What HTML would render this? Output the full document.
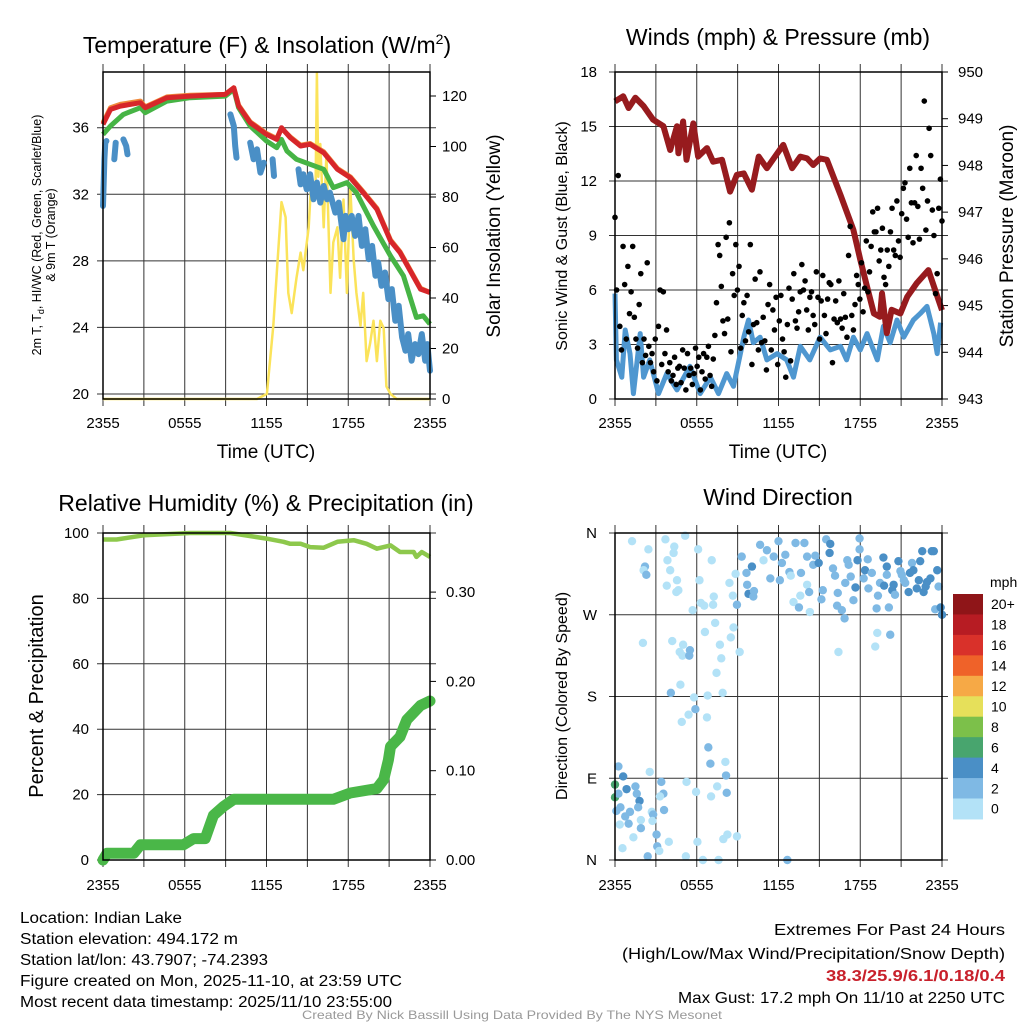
<!DOCTYPE html>
<html><head><meta charset="utf-8"><style>
body{margin:0;background:#fff}
svg{display:block;font-family:"Liberation Sans",sans-serif}
</style></head><body>
<svg id="chart" width="1024" height="1024" viewBox="0 0 1024 1024" xmlns="http://www.w3.org/2000/svg">
<rect x="0" y="0" width="1024" height="1024" fill="#fff"/>
<text x="267" y="53" font-size="23" text-anchor="middle">Temperature (F) &amp; Insolation (W/m<tspan font-size="14" dy="-9">2</tspan><tspan dy="9">)</tspan></text>
<text x="778" y="45" font-size="23" text-anchor="middle">Winds (mph) &amp; Pressure (mb)</text>
<text x="266" y="511" font-size="23" text-anchor="middle">Relative Humidity (%) &amp; Precipitation (in)</text>
<text x="778" y="505" font-size="23" text-anchor="middle">Wind Direction</text>
<text x="266" y="458" font-size="19" text-anchor="middle">Time (UTC)</text>
<text x="778" y="458" font-size="19" text-anchor="middle">Time (UTC)</text>
<text transform="translate(41,235) rotate(-90)" font-size="12.5" text-anchor="middle">2m T, T<tspan font-size="9" dy="3">d</tspan><tspan dy="-3">, HI/WC (Red, Green, Scarlet/Blue)</tspan></text>
<text transform="translate(55,235) rotate(-90)" font-size="12.5" text-anchor="middle">&amp; 9m T (Orange)</text>
<text transform="translate(500,236) rotate(-90)" font-size="19" text-anchor="middle">Solar Insolation (Yellow)</text>
<text transform="translate(567,236) rotate(-90)" font-size="16" text-anchor="middle">Sonic Wind &amp; Gust (Blue, Black)</text>
<text transform="translate(1013,236) rotate(-90)" font-size="19" text-anchor="middle">Station Pressure (Maroon)</text>
<text transform="translate(43,696) rotate(-90)" font-size="20" text-anchor="middle">Percent &amp; Precipitation</text>
<text transform="translate(567,696) rotate(-90)" font-size="16" text-anchor="middle">Direction (Colored By Speed)</text>
<g font-size="15.5">
<text x="20" y="923" textLength="162" lengthAdjust="spacingAndGlyphs">Location: Indian Lake</text>
<text x="20" y="944" textLength="218" lengthAdjust="spacingAndGlyphs">Station elevation: 494.172 m</text>
<text x="20" y="965" textLength="248" lengthAdjust="spacingAndGlyphs">Station lat/lon: 43.7907; -74.2393</text>
<text x="20" y="986" textLength="382" lengthAdjust="spacingAndGlyphs">Figure created on Mon, 2025-11-10, at 23:59 UTC</text>
<text x="20" y="1007" textLength="372" lengthAdjust="spacingAndGlyphs">Most recent data timestamp: 2025/11/10 23:55:00</text>
</g>
<g font-size="16" text-anchor="end">
<text x="1005" y="935" textLength="231" lengthAdjust="spacingAndGlyphs">Extremes For Past 24 Hours</text>
<text x="1005" y="959" textLength="383" lengthAdjust="spacingAndGlyphs">(High/Low/Max Wind/Precipitation/Snow Depth)</text>
<text x="1005" y="981" fill="#c8202b" font-weight="bold" textLength="179" lengthAdjust="spacingAndGlyphs">38.3/25.9/6.1/0.18/0.4</text>
<text x="1005" y="1003" textLength="327" lengthAdjust="spacingAndGlyphs">Max Gust: 17.2 mph On 11/10 at 2250 UTC</text>
</g>
<text x="512" y="1019" font-size="12" fill="#999" text-anchor="middle" textLength="420" lengthAdjust="spacingAndGlyphs">Created By Nick Bassill Using Data Provided By The NYS Mesonet</text>
</svg>
<script>
// ---------- Data ----------
const xTickLabels = ["2355","0555","1155","1755","2355"];
const tempTicks = [20,24,28,32,36];
const insolTicks = [0,20,40,60,80,100,120];
const windTicks = [0,3,6,9,12,15,18];
const presTicks = [943,944,945,946,947,948,949,950];
const rhTicks = [0,20,40,60,80,100];
const precipTicks = [0.00,0.10,0.20,0.30];
const dirTicks = [0,90,180,270,360];
const dirTickLabels = ["N","E","S","W","N"];

const tempHours = [0,0.55,1.27,2.75,3.1,4.7,6.4,8.97,9.6,9.95,10.8,12.0,12.75,13.1,13.75,14.5,15.2,16.2,17.2,18.15,19.1,20.1,21.1,21.8,23.3,24];
const tempVals  = [36.2,37.1,37.3,37.5,37.2,37.8,37.9,38.0,38.4,37.3,36.3,35.6,35.3,36.0,35.4,34.9,35.0,34.5,33.5,33.0,32.1,31.1,29.2,28.5,26.3,26.1];
const temp9mVals = [36.3,37.2,37.4,37.6,37.25,37.85,37.95,38.0,38.4,37.35,36.35,35.65,35.35,35.95,35.45,34.95,35.05,34.55,33.55,33.05,32.15,31.15,29.25,28.55,26.35,26.1];
const hiHours = [0,0.55,1.5,2.75,3.1,4.7,6.4,8.97,9.6,9.95,10.8,12,12.75,13.1,13.5,14.2,15.2,16.2,16.9,17.9,18.6,19.85,21.1,22.05,23.0,23.5,24];
const hiVals  = [35.6,36.1,36.8,37.2,36.9,37.6,37.8,37.9,38.3,37.2,36.1,35.2,34.8,35.3,34.6,34.1,33.8,33.5,32.4,32.7,32.1,30.1,28.3,27.1,24.6,24.7,24.2];
const dewHours = [0,0.1,0.17,0.25,null,0.83,0.93,null,1.5,1.7,1.8,null,9.35,9.6,9.7,9.8,null,10.8,11.05,11.3,11.55,11.8,null,12.45,12.55,null,14.35,14.5,14.7,14.95,15.2,15.45,15.7,15.95,16.2,16.45,16.65,17.05,17.3,17.65,17.8,18.0,18.25,18.5,18.75,19.0,19.25,19.5,19.75,20.0,20.2,20.45,20.7,20.95,21.2,21.45,21.7,21.95,22.2,22.4,22.65,22.9,23.15,23.4,23.65,23.8,24.0];
const dewVals  = [31.3,34.1,35.1,35.2,null,34.1,35.1,null,35.3,34.9,34.4,null,36.8,36.1,34.9,34.2,null,35.1,34.1,34.7,33.3,33.9,null,34.1,33.1,null,33.5,32.6,33.2,32.3,33.2,31.7,32.7,31.5,32.5,31.7,32.1,30.9,31.5,29.3,30.7,29.9,30.7,29.5,30.7,28.9,29.9,28.1,28.9,27.1,27.9,26.5,27.3,25.7,26.3,24.4,25.3,23.4,22.6,23.6,22.0,23.0,22.4,23.6,22.0,23.0,21.4];
const insolHours = [0,11.3,12.03,12.5,12.9,13.1,13.4,13.6,13.85,14.2,14.5,14.7,15.1,15.3,15.6,15.7,15.8,15.95,16.2,16.4,16.7,16.9,17.2,17.4,17.65,17.9,18.15,18.4,18.6,18.9,19.1,19.35,19.6,19.85,20.1,20.35,20.6,20.8,21.1,21.55,24];
const insolVals  = [0,0,2,29,62,78,72,42,34,48,58,51,68,88,81,129,88,101,68,97,42,62,68,48,79,42,84,55,42,29,42,15,22,31,15,31,28,5,2,0,0];

const presHours = [0,0.6,1.0,1.5,2.1,2.8,3.55,4.05,4.55,4.65,5.0,5.25,5.75,6.1,6.75,7.2,7.85,8.45,8.95,9.45,10.05,10.55,11.15,11.65,12.35,13.0,13.6,14.1,14.55,15.05,15.55,16.55,17.5,18.0,18.5,19.0,19.45,19.6,19.95,20.3,20.95,21.45,22.15,23.0,24.0];
const presVals  = [949.37,949.48,949.23,949.45,949.27,948.98,948.84,948.33,948.84,948.26,948.94,948.12,948.9,948.19,948.37,948.08,948.12,947.44,947.8,947.83,947.48,948.19,947.94,948.15,948.44,947.94,948.19,948.15,948.01,948.15,948.12,947.37,946.62,945.98,945.4,944.83,944.76,945.26,944.41,944.91,944.83,945.19,945.48,945.76,944.9];
const windHours = [0,0.1,0.5,0.75,1.1,1.35,1.85,2.1,2.55,3.2,3.8,4.55,5.5,6.25,7.0,7.6,8.2,8.7,9.2,9.45,9.8,10.15,10.65,11.15,11.9,12.6,13.1,13.6,14.3,15.05,15.8,16.55,17.0,17.5,18.0,18.5,19.25,19.7,20.2,20.7,21.2,21.9,22.4,22.9,23.4,23.65,23.9];
const windVals  = [5.8,2.15,1.2,3.8,2.5,0.3,3.6,1.2,2.15,0.3,1.4,0.5,1.8,0.3,1.2,0.3,1.4,0.7,2.5,3.4,4.35,3.1,3.4,2.15,2.5,2.15,1.2,2.9,2.15,3.4,2.7,2.9,2.15,3.4,2.7,3.6,2.15,4.0,3.1,4.35,3.4,4.35,4.7,5.1,3.6,2.5,4.2];
const gustVals = [10,6,12.3,4,2.7,8.4,6.3,3.3,7.3,4.7,5.9,8.4,4.5,
3.3,2.8,5.2,6.9,2,3.3,2.4,7.5,2.9,2,2.5,1.5,3.3,1,4,6,1.9,5.9,2.5,3.8,
1.5,2,1,1.3,2.3,0.8,1.7,1.8,0.9,2.7,1.7,0.5,2.5,1.3,1.7,0.8,1.4,2.8,1.8,2.3,0.5,1.5,2.5,1.1,2.3,2.9,1.3,0.7,2.2,
3.5,5.3,8.5,7.9,6.2,4.3,3.6,8.9,4.4,9.7,2.6,6.9,5.7,8.5,6,7.3,2.8,4.6,5.3,3.2,5.7,3.7,8.5,1.9,4.1,6.6,4.2,2.7,7.0,3.1,
4.5,3.2,1.6,5.2,6.3,2.7,4.9,3.8,5.6,1.9,4.3,5.7,3.3,2.6,1.2,4.1,6.1,2.1,5.5,6.9,4.3,3.9,4.8,5.9,
7.4,6.0,6.5,4.9,3.8,5.6,5.9,4.6,4.1,7.0,5.6,3.3,5.4,6.8,4.6,3.6,5.5,6.4,6.3,2.0,4.4,5.4,4.2,6.5,
4.4,3.9,5.8,4.5,3.4,7.9,9.5,4.6,3.8,5.2,6.8,6.3,5.5,7.5,4.8,6.1,8.7,5.9,7.0,
8.4,10.3,9.2,9.2,10.5,7.6,8.2,9.4,6.7,6.3,8.2,7.3,9.2,10.5,8.2,7.9,10.9,8.7,7.8,
10.2,11.6,11.9,9.9,8.9,12.7,10.8,8.6,10.8,13.4,10.6,8.8,12.7,11.6,16.4,9.3,10.9,14.9,13.4,10.4,9.0,5.8,6.9,10.5,12.1,9.8];

const rhHours = [0,1,3,6.4,9.35,12,13.25,13.75,14.5,15.2,16.2,17.2,18.4,19.35,20.1,21.1,21.8,22.8,23.0,23.4,24];
const rhVals  = [98,98,99.3,100,100,98.3,97.3,96.7,96.7,95.7,95.5,97.3,97.8,96.7,95.2,96.2,94.2,94.2,92.7,94.2,92.7];
const precipHours = [0,0.3,2.25,2.75,5.9,6.65,7.5,8.1,8.85,9.6,16.9,18.15,20.1,20.6,20.95,21.1,21.8,22.3,23.3,24];
const precipVals  = [0,0.0075,0.0075,0.017,0.017,0.024,0.024,0.05,0.06,0.068,0.068,0.075,0.08,0.09,0.112,0.127,0.138,0.157,0.173,0.178];

const dirHours = [0.25,0.6,0,0,0.85,1.5,1.6,1.8,0.25,0.1,0.4,0.75,1.1,1.0,0.35,1.35,1.9,1.9,0.55,1.7,2.55,3.4,3.55,3.3,2.7,2.8,2.75,3.6,3.05,3.1,3.25,2.4,3.95,5.2,5.25,5.95,6.05,6.45,7.05,7.5,8.2,7.6,7.95,8.25,8.95,
1.25,2.45,2.2,2.1,2.3,3.7,4.35,4.3,3.85,5.15,4.05,4.55,3.8,4.5,4.65,6.1,6.2,5.7,6.3,6.55,7.1,7.25,7.2,8.4,8.85,8.65,
2.05,4.2,5.0,4.75,4.95,5.5,5.45,6.6,7.35,7.7,7.8,8.7,8.5,9.15,7.45,4.8,4.1,5.8,6.8,7.9,5.9,5.4,4.9,6.75,6.85,7.0,8.1,8.15,
8.95,9.3,9.65,9.7,9.8,10.15,10.2,10.05,10.65,10.9,11.15,11.4,11.65,12.0,12.1,12.25,12.5,12.8,12.9,13.1,13.25,13.5,13.6,13.65,13.9,14.1,14.1,14.25,14.3,14.55,14.7,14.95,15.25,15.15,15.5,15.8,15.75,16.0,16.15,16.35,16.3,16.65,16.85,16.9,17.05,17.15,17.3,17.5,17.65,17.8,17.95,17.95,18.25,18.35,18.55,18.6,18.85,19.2,19.3,19.25,19.1,19.45,19.7,19.75,19.95,19.95,20.1,20.2,20.35,20.45,20.55,20.8,20.95,21.05,21.2,21.3,21.55,21.65,21.8,21.9,22.15,22.3,22.4,22.55,22.65,22.8,22.9,23.15,23.25,23.4,23.5,23.65,23.75,23.9,24.0,16.4,12.65];
const dirVals = [103,92,83,69,78,81,73,65,73,54,58,48,53,40,39,25,44,35,13,58,97,86,73,70,53,50,43,55,28,15,10,4,20,4,86,75,20,0,70,81,74,0,23,28,26,
351,342,323,319,314,353,345,338,330,357,319,308,302,295,297,342,308,275,283,280,330,290,281,305,315,291,
239,241,237,229,225,231,225,251,261,237,222,256,245,229,206,193,184,179,181,184,166,160,152,157,124,106,108,93,
281,334,316,303,293,290,296,323,347,330,341,310,334,351,308,327,336,317,313,284,349,278,291,316,349,334,303,295,273,325,335,327,297,287,353,348,338,321,313,294,280,275,266,305,330,325,312,286,300,330,354,342,310,319,331,299,316,277,291,250,235,305,333,302,323,314,278,248,297,303,292,329,318,314,308,305,295,316,327,319,299,308,329,340,295,301,306,310,340,340,276,319,301,278,270,229,0];
const dirSpeed = [3,5,7,7,5,3,3,5,3,3,3,3,3,3,1,1,1,3,1,3,1,3,3,1,1,3,1,3,3,3,1,3,1,1,1,1,1,1,1,1,3,1,1,1,1,
1,1,3,1,3,1,1,1,1,1,1,1,1,1,1,1,1,1,1,1,1,1,1,1,1,1,
1,1,1,1,1,3,3,1,1,1,1,1,1,1,1,1,3,1,1,1,3,1,1,1,3,3,1,3,
3,3,3,3,5,3,3,5,3,1,3,3,3,3,3,3,3,3,1,1,3,3,1,3,3,3,1,3,1,3,3,5,3,3,3,5,5,3,3,3,3,3,3,3,3,3,3,3,5,5,3,3,3,5,3,3,3,3,3,1,1,3,5,5,5,3,3,3,5,5,3,5,3,3,3,3,5,5,3,5,5,5,5,5,5,5,5,5,5,5,3,5,3,5,5,1,3];

const speedLabels = ["20+","18","16","14","12","10","8","6","4","2","0"];
const speedColors = ["#8f1518","#b71c23","#d9312a","#ef6229","#f6a946","#e6e05a","#7cc04a","#48a56e","#4a8fc6","#7fb9e4","#b3e2f7"];

// ---------- Helpers ----------
const NS = "http://www.w3.org/2000/svg";
const svg = document.getElementById("chart");
function mk(tag, attrs, parent){
  const el = document.createElementNS(NS, tag);
  for (const k in attrs) el.setAttribute(k, attrs[k]);
  (parent || svg).appendChild(el);
  return el;
}
function scale(d0,d1,r0,r1){ return v => r0 + (v-d0)*(r1-r0)/(d1-d0); }

function panel(name){
  const g = mk("g", {});
  
  
  return g;
}
function pathFrom(hours, vals, xs, ys){
  let d = "", pen = false;
  for (let i=0;i<hours.length;i++){
    if (hours[i]===null || vals[i]===null){ pen=false; continue; }
    d += (pen ? "L" : "M") + xs(hours[i]).toFixed(1) + "," + ys(vals[i]).toFixed(1);
    pen = true;
  }
  return d;
}
function drawGridAndAxes(g, L, R, T, B, xs, hLines, xLabels, labelY){
  for (let h=0; h<=24; h+=3){
    const x = xs(h);
    const ln = mk("line", {x1:x, x2:x, y1:T-8, y2:B+7, stroke:"#333", "stroke-width":1}, g);
    
    
  }
  hLines.forEach(y => {
    const ln = mk("line", {x1:L-6, x2:R+6, y1:y, y2:y, stroke:"#333", "stroke-width":1}, g);
    
    
  });
  xLabels.forEach((lab,i) => {
    const t = mk("text", {x:xs(i*6), y:labelY, "font-size":15, "text-anchor":"middle"}, g);
    t.textContent = lab;
    
    
  });
}
function frame(g, L, R, T, B){
  const f = mk("rect", {x:L, y:T, width:R-L, height:B-T, fill:"none", stroke:"#000", "stroke-width":1.5}, g);
  
  
}
function yLabels(g, ticks, ys, x, anchor, fmt){
  ticks.forEach(v => {
    const t = mk("text", {x:x, y:ys(v)+5, "font-size":15, "text-anchor":anchor}, g);
    t.textContent = fmt ? fmt(v) : v;
    
    
  });
}
function rightTicks(g, ticks, ys, R){
  ticks.forEach(v => {
    const ln = mk("line", {x1:R, x2:R+6, y1:ys(v), y2:ys(v), stroke:"#000", "stroke-width":1}, g);
    
    
  });
}

// ---------- Panel 1: Temperature ----------
{
  const L=103,R=430,T=72,B=399;
  const g = panel("temperature-panel");
  const xs = scale(0,24,L,R);
  const yT = scale(20,36,394,127.7);
  const yI = scale(0,120,399,96);
  drawGridAndAxes(g,L,R,T,B,xs,tempTicks.map(yT),xTickLabels,428);
  yLabels(g,tempTicks,yT,89,"end");
  yLabels(g,insolTicks,yI,442,"start");
  rightTicks(g,insolTicks,yI,R);
  const ins = mk("path",{d:pathFrom(insolHours,insolVals,xs,yI),fill:"none",stroke:"#fbe35a","stroke-width":2.5,"stroke-linejoin":"round"},g);
  
  
  const dew = mk("path",{d:pathFrom(dewHours,dewVals,xs,yT),fill:"none",stroke:"#4a8fc6","stroke-width":6,"stroke-linejoin":"round","stroke-linecap":"round"},g);
  
  
  const o9 = mk("path",{d:pathFrom(tempHours,temp9mVals,xs,yT),fill:"none",stroke:"#f08a3c","stroke-width":5,"stroke-linejoin":"round"},g);
  
  
  const hi = mk("path",{d:pathFrom(hiHours,hiVals,xs,yT),fill:"none",stroke:"#46b445","stroke-width":5,"stroke-linejoin":"round"},g);
  
  
  const tl = mk("path",{d:pathFrom(tempHours,tempVals,xs,yT),fill:"none",stroke:"#d7262a","stroke-width":5,"stroke-linejoin":"round"},g);
  
  
  frame(g,L,R,T,B);
}

// ---------- Panel 2: Winds ----------
{
  const L=615,R=942,T=72,B=399;
  const g = panel("winds-panel");
  const xs = scale(0,24,L,R);
  const yW = scale(0,18,399,72);
  const yP = scale(943,950,399,72);
  drawGridAndAxes(g,L,R,T,B,xs,windTicks.map(yW),xTickLabels,428);
  yLabels(g,windTicks,yW,597,"end");
  yLabels(g,presTicks,yP,958,"start");
  rightTicks(g,presTicks,yP,R);
  const wl = mk("path",{d:pathFrom(windHours,windVals,xs,yW),fill:"none",stroke:"#4f97d0","stroke-width":5,"stroke-linejoin":"round"},g);
  
  
  const pl = mk("path",{d:pathFrom(presHours,presVals,xs,yP),fill:"none",stroke:"#971b1e","stroke-width":6,"stroke-linejoin":"round"},g);
  
  
  gustVals.forEach((v,i) => {
    const h = i*24/(gustVals.length-1);
    const c = mk("circle",{cx:xs(h),cy:yW(v),r:2.8,fill:"#000"},g);
    
    
  });
  frame(g,L,R,T,B);
}

// ---------- Panel 3: Humidity & Precip ----------
{
  const L=103,R=430,T=533,B=860;
  const g = panel("humidity-panel");
  const xs = scale(0,24,L,R);
  const yRH = scale(0,100,860,533);
  const yPr = scale(0,0.1,860,770.7);
  drawGridAndAxes(g,L,R,T,B,xs,rhTicks.map(yRH),xTickLabels,890);
  yLabels(g,rhTicks,yRH,89,"end");
  yLabels(g,precipTicks,yPr,446,"start",v=>v.toFixed(2));
  rightTicks(g,precipTicks,yPr,R);
  const rl = mk("path",{d:pathFrom(rhHours,rhVals,xs,yRH),fill:"none",stroke:"#8dc84c","stroke-width":4.5,"stroke-linejoin":"round"},g);
  
  
  const pr = mk("path",{d:pathFrom(precipHours,precipVals,xs,yPr),fill:"none",stroke:"#4ab748","stroke-width":11,"stroke-linejoin":"round","stroke-linecap":"round"},g);
  
  
  frame(g,L,R,T,B);
}

// ---------- Panel 4: Wind Direction ----------
{
  const L=615,R=942,T=533,B=860;
  const g = panel("wind-direction-panel");
  const xs = scale(0,24,L,R);
  const yD = scale(0,360,860,533);
  drawGridAndAxes(g,L,R,T,B,xs,dirTicks.map(yD),xTickLabels,890);
  dirTicks.forEach((v,i) => {
    const t = mk("text",{x:597,y:yD(v)+5,"font-size":15,"text-anchor":"end"},g);
    t.textContent = dirTickLabels[i];
    
    
  });
  function colorFor(s){
    const idx = Math.min(10, Math.floor(s/2));
    return speedColors[10-idx];
  }
  dirHours.forEach((h,i) => {
    const c = mk("circle",{cx:xs(h),cy:yD(dirVals[i]),r:4.2,fill:colorFor(dirSpeed[i])},g);
    
    
  });
  frame(g,L,R,T,B);
  const cb = mk("g",{},svg);
  
  
  const segH = 20.45;
  speedColors.forEach((col,i) => {
    const r = mk("rect",{x:953,y:594+i*segH,width:30,height:segH+0.5,fill:col},cb);
    
    
    const t = mk("text",{x:991,y:594+i*segH+segH/2+5,"font-size":14},cb);
    t.textContent = speedLabels[i];
    
    
  });
  const u = mk("text",{x:990,y:587,"font-size":14},cb);
  u.textContent = "mph";
  
  
}
</script>
</body></html>
